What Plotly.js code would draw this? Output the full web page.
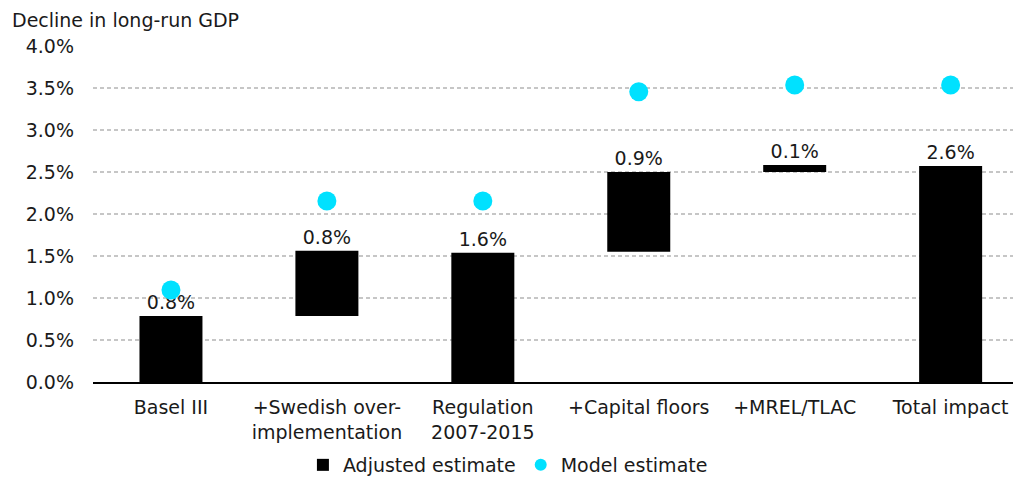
<!DOCTYPE html>
<html>
<head>
<meta charset="utf-8">
<script src="https://cdn.plot.ly/plotly-3.0.1.min.js"></script>
<style>html,body{margin:0;padding:0;background:#fff;}#chart{width:1017px;height:477px;}</style>
</head>
<body>
<div id="chart"></div>
<script>
const categories = ["Basel III", "+Swedish over-<br>implementation", "Regulation<br>2007-2015", "+Capital floors", "+MREL/TLAC", "Total impact"];
const barBase = [0, 0.786, 0, 1.55, 2.50, 0];
const barDelta = [0.786, 0.777, 1.54, 0.95, 0.083, 2.571];
const barLabels = ["0.8%", "0.8%", "1.6%", "0.9%", "0.1%", "2.6%"];
const modelEstimate = [1.095, 2.155, 2.155, 3.456, 3.536, 3.536];
const yTicks = [0, 0.5, 1.0, 1.5, 2.0, 2.5, 3.0, 3.5, 4.0];
const yTickText = ["0.0%", "0.5%", "1.0%", "1.5%", "2.0%", "2.5%", "3.0%", "3.5%", "4.0%"];

const FAM = "DejaVu Sans, Verdana, sans-serif";
const TXT = "#1a1a1a";
const FS = 19;

const traces = [
  {
    type: "bar", name: "Adjusted estimate",
    x: categories, y: barDelta, base: barBase,
    text: barLabels, textposition: "outside", cliponaxis: false,
    textfont: {family: FAM, size: FS, color: TXT},
    marker: {color: "#000000"}, width: 0.404,
    hoverinfo: "skip"
  },
  {
    type: "scatter", mode: "markers", name: "Model estimate",
    x: categories, y: modelEstimate,
    marker: {color: "#00e1ff", size: 19},
    cliponaxis: false
  }
];

const layout = {
  width: 1017, height: 477,
  margin: {l: 93, r: 4, t: 46, b: 95, autoexpand: false},
  paper_bgcolor: "#fff", plot_bgcolor: "#fff",
  font: {family: FAM, size: FS, color: TXT},
  showlegend: true,
  legend: {orientation: "h", x: 0.451, xanchor: "center", yref: "container", y: 12/477, yanchor: "middle",
    font: {family: FAM, size: FS, color: TXT}, traceorder: "normal", bgcolor: "rgba(0,0,0,0)",
    itemsizing: "constant"},
  xaxis: {
    type: "category", range: [-0.5, 5.4],
    showline: true, linecolor: "#000", linewidth: 1.5,
    ticks: "", showgrid: false, ticklabelstandoff: 8,
    tickfont: {family: FAM, size: FS, color: TXT},
    fixedrange: true
  },
  yaxis: {
    range: [0, 4], tickvals: yTicks, ticktext: yTickText,
    showgrid: true, gridcolor: "#c6c6c6", griddash: "4px,3px", gridwidth: 1.4,
    zeroline: false, showline: false, ticks: "", ticklabelstandoff: 18,
    tickfont: {family: FAM, size: FS, color: TXT},
    fixedrange: true
  },
  annotations: [
    {text: "Decline in long-run GDP", xref: "paper", yref: "paper", x: -83/920, y: 1 + 26/336,
     xanchor: "left", yanchor: "middle", showarrow: false,
     font: {family: FAM, size: FS, color: TXT}}
  ],
  bargap: 0.6
};

Plotly.newPlot("chart", traces, layout, {displayModeBar: false, staticPlot: true});
</script>
</body>
</html>
